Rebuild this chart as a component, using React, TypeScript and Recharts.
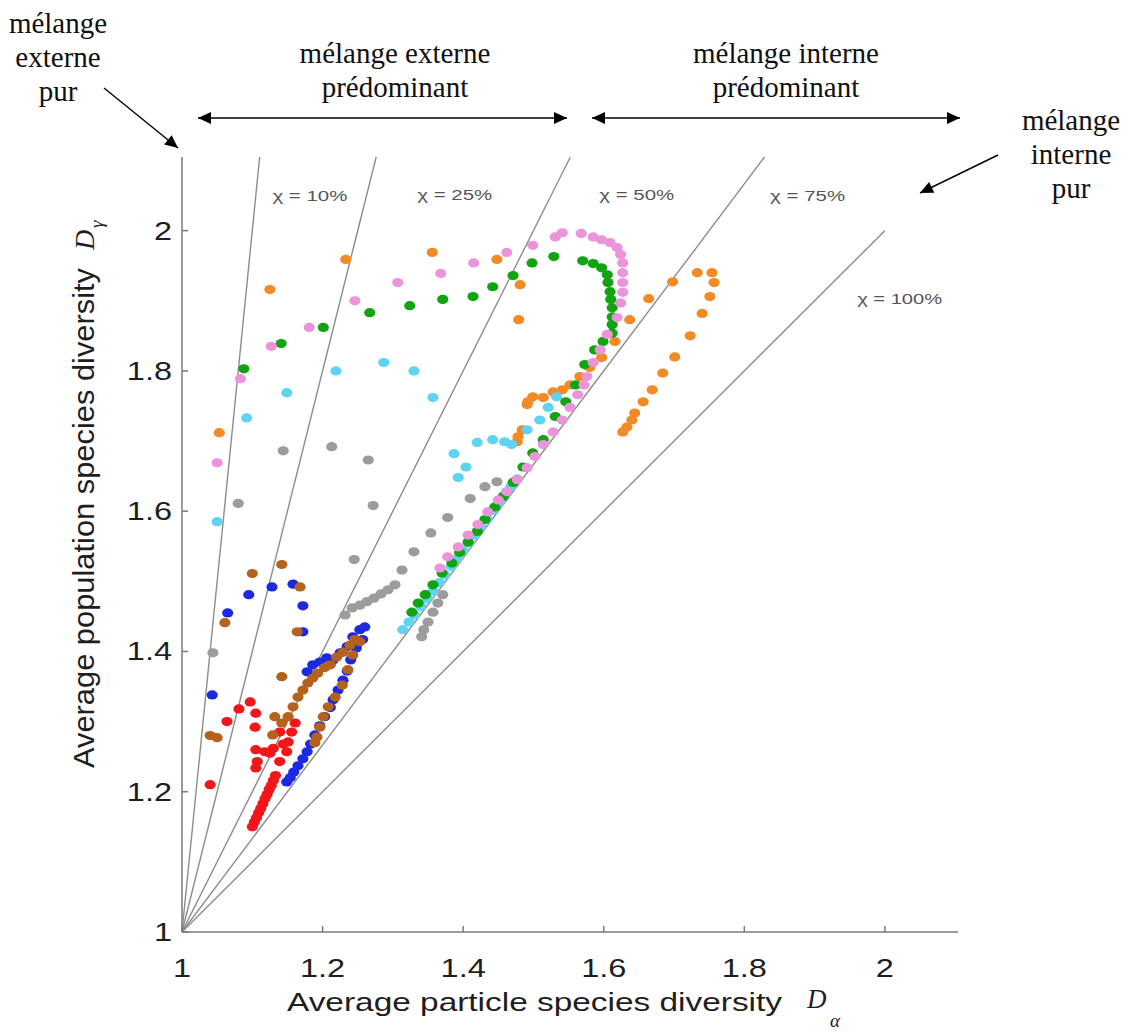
import { ScatterChart, Scatter, XAxis, YAxis, ReferenceLine, ReferenceDot } from 'recharts'

// [D_alpha, D_gamma] pairs
const red: [number, number][] = [
  [1.04, 1.21], [1.064, 1.3], [1.081, 1.318], [1.097, 1.328], [1.105, 1.312], [1.104, 1.292],
  [1.105, 1.26], [1.107, 1.243], [1.105, 1.234], [1.118, 1.257], [1.125, 1.255], [1.139, 1.243],
  [1.149, 1.257], [1.151, 1.271], [1.139, 1.285], [1.156, 1.285], [1.161, 1.298], [1.144, 1.268],
  [1.13, 1.262], [1.1, 1.15], [1.103, 1.157], [1.106, 1.163], [1.109, 1.17], [1.112, 1.176],
  [1.115, 1.183], [1.118, 1.19], [1.121, 1.196], [1.124, 1.203], [1.127, 1.209], [1.13, 1.216],
  [1.133, 1.223],
]
const blue: [number, number][] = [
  [1.043, 1.338], [1.065, 1.455], [1.095, 1.481], [1.128, 1.492], [1.158, 1.496], [1.172, 1.465],
  [1.172, 1.428], [1.178, 1.371], [1.186, 1.381], [1.196, 1.385], [1.206, 1.391], [1.215, 1.388],
  [1.225, 1.398], [1.235, 1.407], [1.243, 1.421], [1.253, 1.431], [1.26, 1.435], [1.257, 1.417],
  [1.248, 1.405], [1.24, 1.388], [1.235, 1.372], [1.229, 1.359], [1.222, 1.345], [1.215, 1.331],
  [1.211, 1.32], [1.203, 1.307], [1.196, 1.294], [1.189, 1.281], [1.183, 1.268], [1.178, 1.257],
  [1.172, 1.247], [1.165, 1.237], [1.159, 1.228], [1.154, 1.22], [1.149, 1.214],
]
const brown: [number, number][] = [
  [1.061, 1.441], [1.1, 1.511], [1.142, 1.524], [1.168, 1.492], [1.164, 1.428], [1.142, 1.364],
  [1.04, 1.28], [1.05, 1.277], [1.129, 1.281], [1.132, 1.307], [1.142, 1.298], [1.151, 1.307],
  [1.158, 1.321], [1.165, 1.335], [1.172, 1.345], [1.179, 1.355], [1.186, 1.362], [1.193, 1.369],
  [1.203, 1.377], [1.211, 1.381], [1.22, 1.392], [1.229, 1.399], [1.239, 1.409], [1.246, 1.417],
  [1.253, 1.414], [1.243, 1.395], [1.236, 1.374], [1.228, 1.352], [1.218, 1.335], [1.208, 1.321],
  [1.201, 1.307], [1.196, 1.292], [1.192, 1.278], [1.189, 1.27],
]
const gray: [number, number][] = [
  [1.044, 1.398], [1.08, 1.611], [1.144, 1.686], [1.213, 1.692], [1.265, 1.673], [1.272, 1.608],
  [1.245, 1.531], [1.232, 1.452], [1.242, 1.462], [1.253, 1.466], [1.263, 1.471], [1.273, 1.476],
  [1.283, 1.482], [1.293, 1.488], [1.303, 1.495], [1.313, 1.516], [1.33, 1.542], [1.354, 1.569],
  [1.378, 1.591], [1.41, 1.618], [1.431, 1.635], [1.448, 1.642], [1.341, 1.421], [1.344, 1.431],
  [1.35, 1.442], [1.357, 1.456], [1.364, 1.469], [1.371, 1.481],
]
const orange: [number, number][] = [
  [1.053, 1.712], [1.125, 1.916], [1.233, 1.959], [1.356, 1.969], [1.448, 1.959], [1.481, 1.923],
  [1.479, 1.873], [1.477, 1.699], [1.478, 1.706], [1.484, 1.716], [1.491, 1.752], [1.492, 1.756],
  [1.499, 1.763], [1.514, 1.762], [1.528, 1.77], [1.541, 1.773], [1.552, 1.78], [1.566, 1.792],
  [1.58, 1.805], [1.597, 1.819], [1.616, 1.842], [1.637, 1.873], [1.664, 1.903], [1.698, 1.927],
  [1.733, 1.94], [1.754, 1.94], [1.757, 1.926], [1.751, 1.906], [1.74, 1.882], [1.723, 1.85],
  [1.701, 1.82], [1.684, 1.797], [1.669, 1.773], [1.656, 1.756], [1.644, 1.74], [1.64, 1.73],
  [1.633, 1.72], [1.627, 1.713],
]
const cyan: [number, number][] = [
  [1.05, 1.585], [1.092, 1.733], [1.149, 1.769], [1.219, 1.8], [1.287, 1.812], [1.33, 1.8],
  [1.357, 1.762], [1.387, 1.682], [1.393, 1.648], [1.404, 1.663], [1.42, 1.698], [1.442, 1.702],
  [1.459, 1.699], [1.469, 1.695], [1.491, 1.716], [1.509, 1.73], [1.521, 1.748], [1.533, 1.763],
  [1.314, 1.431], [1.323, 1.442], [1.331, 1.452], [1.34, 1.464], [1.349, 1.475], [1.357, 1.486],
  [1.366, 1.498], [1.374, 1.509], [1.383, 1.521], [1.391, 1.532], [1.4, 1.544], [1.408, 1.555],
  [1.417, 1.566], [1.425, 1.578], [1.434, 1.589], [1.442, 1.601], [1.451, 1.612], [1.459, 1.623],
  [1.468, 1.635], [1.477, 1.646],
]
const green: [number, number][] = [
  [1.088, 1.803], [1.141, 1.839], [1.201, 1.862], [1.267, 1.883], [1.324, 1.893], [1.371, 1.902],
  [1.414, 1.906], [1.442, 1.92], [1.471, 1.936], [1.498, 1.954], [1.529, 1.963], [1.57, 1.957],
  [1.585, 1.953], [1.597, 1.947], [1.605, 1.937], [1.606, 1.926], [1.609, 1.913], [1.61, 1.902],
  [1.612, 1.89], [1.612, 1.877], [1.612, 1.866], [1.612, 1.854], [1.599, 1.842], [1.587, 1.83],
  [1.573, 1.809], [1.56, 1.78], [1.546, 1.756], [1.531, 1.735], [1.514, 1.702], [1.499, 1.683],
  [1.485, 1.663], [1.471, 1.641], [1.457, 1.621], [1.445, 1.606], [1.431, 1.588], [1.42, 1.571],
  [1.407, 1.556], [1.395, 1.541], [1.384, 1.526], [1.37, 1.512], [1.357, 1.495], [1.346, 1.481],
  [1.336, 1.469], [1.327, 1.456],
]
const pink: [number, number][] = [
  [1.05, 1.669], [1.083, 1.789], [1.127, 1.835], [1.181, 1.862], [1.246, 1.9], [1.307, 1.926],
  [1.368, 1.939], [1.415, 1.954], [1.462, 1.969], [1.499, 1.979], [1.531, 1.991], [1.541, 1.997],
  [1.568, 1.996], [1.585, 1.991], [1.597, 1.987], [1.609, 1.983], [1.619, 1.976], [1.624, 1.966],
  [1.627, 1.954], [1.627, 1.94], [1.627, 1.926], [1.627, 1.912], [1.624, 1.897], [1.619, 1.876],
  [1.605, 1.852], [1.595, 1.83], [1.585, 1.812], [1.576, 1.792], [1.572, 1.78], [1.563, 1.766],
  [1.552, 1.748], [1.541, 1.73], [1.528, 1.713], [1.514, 1.695], [1.502, 1.678], [1.491, 1.662],
  [1.477, 1.645], [1.462, 1.628], [1.45, 1.616], [1.435, 1.599], [1.421, 1.581], [1.407, 1.566],
  [1.393, 1.549], [1.378, 1.535], [1.367, 1.519],
]

const xTicks = [1, 1.2, 1.4, 1.6, 1.8, 2]
const yTicks = [1, 1.2, 1.4, 1.6, 1.8, 2]
const chiPercent = [10, 25, 50, 75, 100]
const chiLabels = ['χ = 10%', 'χ = 25%', 'χ = 50%', 'χ = 75%', 'χ = 100%']

const X_MAX = 2.104
const Y_MAX = 2.105
const labelPos = [
  [1.182, 2.049], [1.388, 2.051], [1.647, 2.051], [1.89, 2.049], [2.021, 1.902],
]

const series = [
  { key: 'red', color: '#f0161a', pts: red },
  { key: 'blue', color: '#1b2ae0', pts: blue },
  { key: 'brown', color: '#b5621f', pts: brown },
  { key: 'gray', color: '#9c9c9c', pts: gray },
  { key: 'orange', color: '#f28a26', pts: orange },
  { key: 'cyan', color: '#5ed4f2', pts: cyan },
  { key: 'green', color: '#12a312', pts: green },
  { key: 'pink', color: '#ec94da', pts: pink },
]

const SANS = '"Liberation Sans", Arial, sans-serif'
const SERIF = '"Liberation Serif", "Times New Roman", serif'
const AXIS = '#7a7a7a'

function XTick({ x, y, payload }: any) {
  return (
    <g>
      <line x1={x} y1={y} x2={x} y2={y - 6} stroke={AXIS} strokeWidth={1.5} />
      <text transform={`translate(${x},${y + 45}) scale(1.25,1)`} textAnchor="middle"
        fontSize={26} fill="#1e1e1e" fontFamily={SANS}>{payload.value}</text>
    </g>
  )
}

function YTick({ x, y, payload }: any) {
  return (
    <g>
      <line x1={x} y1={y} x2={x + 6} y2={y} stroke={AXIS} strokeWidth={1.5} />
      <text transform={`translate(${x - 10},${y + 9}) scale(1.25,1)`} textAnchor="end"
        fontSize={26} fill="#1e1e1e" fontFamily={SANS}>{payload.value}</text>
    </g>
  )
}

function Arrow({ x1, y1, x2, y2, both }: { x1: number; y1: number; x2: number; y2: number; both?: boolean }) {
  const a = Math.atan2(y2 - y1, x2 - x1)
  const head = (hx: number, hy: number, ang: number) => {
    const L = 13, W = 6
    const bx = hx - L * Math.cos(ang), by = hy - L * Math.sin(ang)
    const px = -Math.sin(ang) * W, py = Math.cos(ang) * W
    return <polygon points={`${hx},${hy} ${bx + px},${by + py} ${bx - px},${by - py}`} fill="#000" />
  }
  return (
    <g>
      <line x1={x1} y1={y1} x2={x2} y2={y2} stroke="#000" strokeWidth={1.4} />
      {head(x2, y2, a)}
      {both && head(x1, y1, a + Math.PI)}
    </g>
  )
}

function Lines({ x, lines, base }: { x: number; lines: string[]; base: number }) {
  return (
    <text textAnchor="middle" fontFamily={SERIF} fontSize={29} fill="#111">
      {lines.map((s, i) => (
        <tspan key={i} x={x} y={base + i * 34}>{s}</tspan>
      ))}
    </text>
  )
}

export default function App() {
  return (
    <div style={{ position: 'absolute', left: 0, top: 0, width: 1128, height: 1035, background: '#fff' }}>
      <ScatterChart width={1128} height={1035} margin={{ top: 157, right: 170, bottom: 63, left: 122 }}>
        <XAxis dataKey="x" type="number" domain={[1, X_MAX]} ticks={xTicks} allowDataOverflow
          axisLine={{ stroke: AXIS, strokeWidth: 1.5 }} tickLine={false} tickSize={0} tickMargin={0}
          height={40} tick={(p: any) => <XTick {...p} />} />
        <YAxis dataKey="y" type="number" domain={[1, Y_MAX]} ticks={yTicks} allowDataOverflow
          axisLine={{ stroke: AXIS, strokeWidth: 1.5 }} tickLine={false} tickSize={0} tickMargin={0}
          width={60} tick={(p: any) => <YTick {...p} />} />
        {chiPercent.map((c) => {
          const end = c === 100 ? { x: 2, y: 2 } : { x: 1 + ((Y_MAX - 1) * c) / 100, y: Y_MAX }
          return (
            <ReferenceLine key={c} segment={[{ x: 1, y: 1 }, end]} stroke="#8c8c8c" strokeWidth={1.4} ifOverflow="visible" />
          )
        })}
        {chiLabels.map((t, i) => (
          <ReferenceDot key={t} x={labelPos[i][0]} y={labelPos[i][1]} r={0}
            shape={(p: any) => (
              <text x={p.cx} y={p.cy + 5} textAnchor="middle" fontSize={15} fill="#555" fontFamily={SANS}
                textLength={t.length > 7 ? 85 : 75} lengthAdjust="spacingAndGlyphs">{t}</text>
            )} />
        ))}
        {series.map((s) => (
          <Scatter key={s.key} name={s.key} data={s.pts.map(([x, y]) => ({ x, y }))} isAnimationActive={false}
            shape={(p: any) => <ellipse cx={p.cx} cy={p.cy} rx={5.6} ry={4.6} fill={s.color} />} />
        ))}
      </ScatterChart>
      <svg width={1128} height={1035} style={{ position: 'absolute', left: 0, top: 0, pointerEvents: 'none' }}>
        <Lines x={58} base={33} lines={['mélange', 'externe', 'pur']} />
        <Lines x={395} base={63} lines={['mélange externe', 'prédominant']} />
        <Lines x={786} base={63} lines={['mélange interne', 'prédominant']} />
        <Lines x={1071} base={130} lines={['mélange', 'interne', 'pur']} />
        <Arrow x1={104} y1={88} x2={178} y2={148} />
        <Arrow x1={198} y1={118} x2={567} y2={118} both />
        <Arrow x1={592} y1={118} x2={960} y2={118} both />
        <Arrow x1={998} y1={155} x2={920} y2={193} />
        <text x={287} y={1011} fontSize={26} fill="#1e1e1e" fontFamily={SANS} textLength={495}
          lengthAdjust="spacingAndGlyphs">Average particle species diversity</text>
        <text x={807} y={1008} fontSize={27} fontStyle="italic" fill="#1e1e1e" fontFamily={SERIF}>D</text>
        <text x={830} y={1027} fontSize={19} fontStyle="italic" fill="#1e1e1e" fontFamily={SERIF}>α</text>
        <g transform="translate(94,768) rotate(-90)">
          <text x={0} y={0} fontSize={29} fill="#1e1e1e" fontFamily={SANS} textLength={500}
            lengthAdjust="spacingAndGlyphs">Average population species diversity</text>
          <text x={518} y={0} fontSize={28} fontStyle="italic" fill="#1e1e1e" fontFamily={SERIF}>D</text>
          <text x={540} y={9} fontSize={19} fontStyle="italic" fill="#1e1e1e" fontFamily={SERIF}>γ</text>
        </g>
      </svg>
    </div>
  )
}
